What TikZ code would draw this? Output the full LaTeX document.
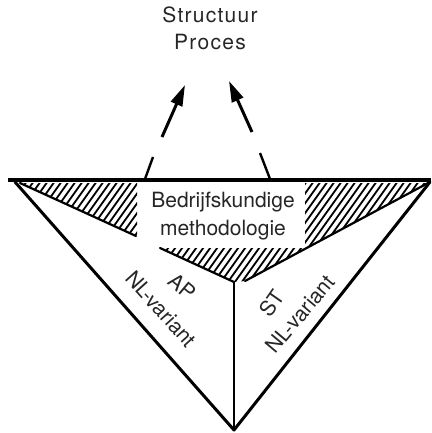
\documentclass[tikz,border=0pt]{standalone}
\usepackage{fontspec}
\setmainfont{TeX Gyre Heros}
\usetikzlibrary{arrows.meta}
\begin{document}
\begin{tikzpicture}[x=1pt,y=1pt,
  lbl/.style={font=\fontsize{21}{27}\selectfont, inner sep=0pt, text=black!85},
  toplbl/.style={font=\fontsize{21}{27}\selectfont\addfontfeature{LetterSpace=6}, inner sep=0pt, text=black!85},
  outerln/.style={line width=3pt, line cap=round, line join=round},
  innerln/.style={line width=2.2pt, line cap=round},
  hatchln/.style={line width=1.8pt},
  arr/.style={line width=3pt, -{Triangle[length=21pt,width=12pt]}},
  tickln/.style={line width=2.4pt}]
\useasboundingbox (0,0) rectangle (431,-433);
% key points
\coordinate (TL) at (8,-180);
\coordinate (TR) at (431,-180);
\coordinate (L) at (15,-182);
\coordinate (R) at (430,-182);
\coordinate (B) at (234,-430);
\coordinate (C) at (234,-282);
\coordinate (IL) at (20,-183);
\coordinate (ILe) at (136,-236);
\coordinate (ILs) at (160,-248);
\coordinate (IRe) at (245,-281);
% hatching
\begin{scope}
  \clip (21,-183) -- (137,-183) -- (137,-236) -- cycle;
  \foreach \i in {-100,-93,...,440} \draw[hatchln] (\i,-300) -- ++(90,126);
\end{scope}
\begin{scope}
  \clip (305,-183) -- (428,-183) -- (245,-281) -- (234,-282) -- (160,-248) -- (305,-248) -- cycle;
  \foreach \i in {-100,-93,...,470} \draw[hatchln] (\i,-300) -- ++(90,126);
\end{scope}
% triangle
\draw[line width=4pt] (TL) -- (TR);
\draw[outerln] (L) -- (B) -- (R);
\draw[innerln] (IL) -- (ILe);
\draw[innerln] (ILs) -- (C);
\draw[innerln] (R) -- (IRe);
\draw[innerln] (C) -- (B);
% texts
\node[lbl, anchor=base] (t1) at (223,-207) {Bedrijfskundige};
\node[lbl, anchor=base] (t2) at (223,-235) {methodologie};
\node[toplbl, anchor=base] (s1) at (210,-23) {Structuur};
\node[toplbl, anchor=base] (s2) at (210,-50) {Proces};
\node[lbl, rotate=-40] (ap) at (182,-287) {AP};
\node[lbl, rotate=-48] (nl1) at (161,-309) {NL-variant};
\node[lbl, rotate=55] (st) at (272,-303) {ST};
\node[lbl, rotate=50] (nl2) at (300,-314) {NL-variant};
% arrows
\coordinate (a1s) at (162,-137);
\coordinate (a1e) at (185,-85);
\coordinate (a2s) at (252,-132);
\coordinate (a2e) at (229,-81);
\draw[arr] (a1s) -- (a1e);
\draw[arr] (a2s) -- (a2e);
% ticks
\coordinate (k1a) at (145,-179);
\coordinate (k1b) at (153,-157);
\coordinate (k2a) at (260,-153);
\coordinate (k2b) at (270,-179);
\draw[tickln] (k1a) -- (k1b);
\draw[tickln] (k2a) -- (k2b);
\end{tikzpicture}
\end{document}
